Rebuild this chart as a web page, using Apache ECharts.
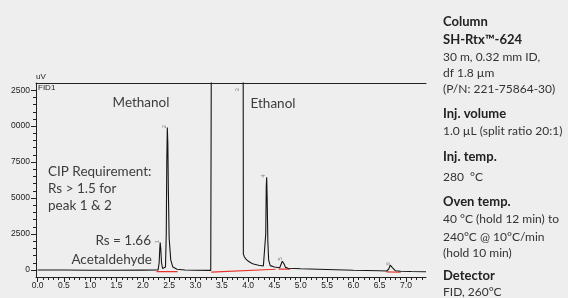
<!DOCTYPE html>
<html>
<head>
<meta charset="utf-8">
<script src="https://cdn.jsdelivr.net/npm/echarts@6.0.0/dist/echarts.min.js"></script>
<style>
  html, body { margin: 0; padding: 0; background: #eeeeee; }
  #chart { width: 568px; height: 298px; }
</style>
</head>
<body>
<div id="chart"></div>
<script>
// tick labels
const xLabels = [0, 0.5, 1, 1.5, 2, 2.5, 3, 3.5, 4, 4.5, 5, 5.5, 6, 6.5, 7]
const yLabels = [0, 2500, 5000, 7500, 10000, 12500]

// chromatogram trace, [min, uV]
const trace = [
  [0, 0], [0.5, 0], [1.0, -20], [1.5, -20], [2.0, -10], [2.25, 0],
  [2.29, 0], [2.31, 500], [2.322, 1500], [2.33, 1900], [2.34, 1500], [2.355, 500], [2.375, 100], [2.40, 0],
  [2.43, 200], [2.445, 2500], [2.455, 7500], [2.465, 9900], [2.475, 8800], [2.485, 5500],
  [2.50, 2200], [2.53, 700], [2.57, 200], [2.65, 50], [2.8, 0], [3.0, -20], [3.29, -30],
  [3.30, -30], [3.305, 20000], [3.905, 20000], [3.91, 1100], [3.93, 900], [3.96, 750],
  [4.0, 620], [4.05, 500], [4.1, 420], [4.2, 330], [4.29, 280],
  [4.32, 300], [4.335, 2500], [4.345, 5800], [4.353, 6450], [4.362, 5000], [4.375, 2000],
  [4.39, 700], [4.42, 300], [4.5, 200], [4.6, 150],
  [4.625, 140], [4.65, 600], [4.663, 700], [4.68, 450], [4.71, 180], [4.76, 120],
  [4.9, 100], [5.0, 80], [5.5, 30], [6.0, -20], [6.5, -60], [6.63, -70],
  [6.67, 50], [6.70, 330], [6.714, 360], [6.745, 150], [6.80, -60], [6.9, -90], [7.1, -110], [7.38, -130]
]

// integration baselines (red)
const baselines = [
  [[2.26, -110], [2.66, -110]],
  [[3.30, -150], [4.52, 50]],
  [[4.58, 60], [4.80, 60]],
  [[6.63, -140], [6.90, -160]]
]

// peak number marks
const peakMarks = [
  [2.33, 1900, '1'], [2.465, 9900, '2'], [3.846, 12450, '3'],
  [4.353, 6450, '4'], [4.663, 700, '5'], [6.714, 360, '6']
]

const minorX = []
for (let i = 0; i <= 73; i++) minorX.push(+(i / 10).toFixed(1))
const minorY = []
for (let v = 0; v <= 12500; v += 500) minorY.push(v)

const chart = echarts.init(document.getElementById('chart'), null, { renderer: 'canvas' })

const axisCol = '#222'
const txtFont = 'Lato, "Open Sans", sans-serif'
const xBase = {
  type: 'value', min: -0.03, max: 7.38, gridIndex: 0,
  splitLine: { show: false }
}
const yBase = {
  type: 'value', min: -490, max: 13000, gridIndex: 0,
  splitLine: { show: false }
}

const rightText = [
  ['Column', 22, true], ['SH-Rtx\u2122-624', 40, true],
  ['30 m, 0.32 mm ID,', 57, false], ['df 1.8 \u00b5m', 73, false],
  ['(P/N: 221-75864-30)', 89, false],
  ['Inj. volume', 114, true], ['1.0 \u00b5L (split ratio 20:1)', 131, false],
  ['Inj. temp.', 157, true], ['280  \u00b0C', 177, false],
  ['Oven temp.', 202, true], ['40 \u00b0C (hold 12 min) to', 219, false],
  ['240\u00b0C @ 10\u00b0C/min', 237, false], ['(hold 10 min)', 253, false],
  ['Detector', 276, true], ['FID, 260\u00b0C', 292, false]
]

const noteText = [
  ['Methanol', 141, 103, 'center'], ['Ethanol', 273, 104, 'center'],
  ['CIP Requirement:', 48, 172, 'left'], ['Rs > 1.5 for', 48, 189, 'left'],
  ['peak 1 & 2', 48, 206, 'left'], ['Rs = 1.66', 151, 241, 'right'],
  ['Acetaldehyde', 152, 260, 'right']
]

const graphics = []
rightText.forEach(([t, y, bold]) => {
  graphics.push({
    type: 'text', x: 443, y: y, silent: true,
    style: {
      text: t, verticalAlign: 'middle',
      font: (bold ? 'bold 13px ' : '12px ') + txtFont,
      fill: bold ? '#222' : '#333'
    }
  })
})
noteText.forEach(([t, x, y, align]) => {
  graphics.push({
    type: 'text', x: x, y: y, silent: true,
    style: { text: t, align: align, verticalAlign: 'middle', font: '13.5px ' + txtFont, fill: '#3c3c3c' }
  })
})
graphics.push({ type: 'text', x: 36, y: 77, style: { text: 'uV', verticalAlign: 'middle', font: '8px "Liberation Sans", Arial', fill: '#222' } })
graphics.push({ type: 'text', x: 38, y: 88, style: { text: 'FID1', verticalAlign: 'middle', font: '8px "Liberation Sans", Arial', fill: '#222' } })

const option = {
  backgroundColor: '#eeeeee',
  animation: false,
  grid: { left: 36, right: 142, top: 83, bottom: 21 },
  xAxis: [
    Object.assign({}, xBase, {
      position: 'bottom',
      axisLine: { onZero: false, lineStyle: { color: axisCol, width: 1 } },
      axisTick: { customValues: xLabels, length: 5, lineStyle: { color: axisCol } },
      axisLabel: {
        customValues: xLabels, formatter: v => v.toFixed(1),
        fontSize: 8.5, color: '#222', margin: 4, fontFamily: '"Liberation Sans", Arial'
      }
    }),
    Object.assign({}, xBase, {
      position: 'bottom',
      axisLine: { show: false, onZero: false },
      axisTick: { customValues: minorX, length: 3, lineStyle: { color: axisCol } },
      axisLabel: { show: false }
    }),
    Object.assign({}, xBase, {
      position: 'top',
      axisLine: { onZero: false, lineStyle: { color: axisCol, width: 1 } },
      axisTick: { show: false },
      axisLabel: { show: false }
    })
  ],
  yAxis: [
    Object.assign({}, yBase, {
      position: 'left',
      axisLine: { onZero: false, lineStyle: { color: axisCol, width: 1 } },
      axisTick: { customValues: yLabels, length: 5, lineStyle: { color: axisCol } },
      axisLabel: {
        customValues: yLabels, formatter: v => String(v).slice(-4),
        fontSize: 8.5, color: '#222', margin: 6, fontFamily: '"Liberation Sans", Arial'
      }
    }),
    Object.assign({}, yBase, {
      position: 'left',
      axisLine: { show: false, onZero: false },
      axisTick: { customValues: minorY, length: 3, lineStyle: { color: axisCol } },
      axisLabel: { show: false }
    })
  ],
  graphic: graphics,
  series: [
    ...baselines.map(seg => ({
      type: 'line', data: seg, xAxisIndex: 0, yAxisIndex: 0,
      showSymbol: false, silent: true, z: 2,
      lineStyle: { color: '#e8312a', width: 1.2 }
    })),
    {
      type: 'line', data: trace, xAxisIndex: 0, yAxisIndex: 0,
      showSymbol: false, silent: true, z: 3, clip: true,
      lineStyle: { color: '#151515', width: 1.1 }
    },
    {
      type: 'scatter', data: peakMarks, xAxisIndex: 0, yAxisIndex: 0,
      symbolSize: 0, silent: true, z: 4,
      label: {
        show: true, position: 'top', distance: 1, rotate: 90,
        formatter: p => p.data[2], fontSize: 6, color: '#666'
      }
    }
  ]
}

chart.setOption(option)
</script>
</body>
</html>
